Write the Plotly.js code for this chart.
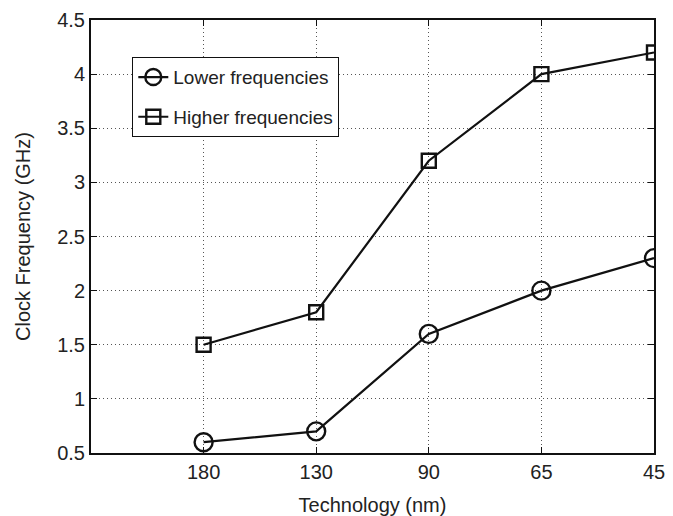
<!DOCTYPE html>
<html>
<head>
<meta charset="utf-8">
<script src="https://cdn.plot.ly/plotly-3.0.1.min.js"></script>
<style>html,body{margin:0;padding:0;background:#fff;}#chart{width:673px;height:516px;}</style>
</head>
<body>
<div id="chart"></div>
<script>
const categories = ["180", "130", "90", "65", "45"];
const positions = [1, 2, 3, 4, 5];
const lowerFreq = [0.6, 0.7, 1.6, 2.0, 2.3];
const higherFreq = [1.5, 1.8, 3.2, 4.0, 4.2];
const yTicks = [0.5, 1, 1.5, 2, 2.5, 3, 3.5, 4, 4.5];
const yTickLabels = ["0.5", "1", "1.5", "2", "2.5", "3", "3.5", "4", "4.5"];

const FAM = "Arial, 'Liberation Sans', sans-serif";
const TXT = "#222";

const traces = [
  {x: positions, y: lowerFreq, name: "Lower frequencies", legendgroup: "a", type: "scatter", mode: "lines+markers",
   line: {color: "#111", width: 2.2},
   marker: {symbol: "circle-open", size: 18, color: "#111", line: {width: 2.4, color: "#111"}}},
  {x: positions, y: higherFreq, name: "Higher frequencies", legendgroup: "b", type: "scatter", mode: "lines+markers",
   line: {color: "#111", width: 2.2},
   marker: {symbol: "square-open", size: 14, color: "#111", line: {width: 2.4, color: "#111"}}}
];

const layout = {
  width: 673, height: 516,
  margin: {l: 91, r: 19, t: 20, b: 63},
  paper_bgcolor: "#fff", plot_bgcolor: "#fff",
  font: {family: FAM, size: 20, color: TXT},
  showlegend: true,
  legend: {x: 0.073, y: 0.9145, xanchor: "left", yanchor: "top", bordercolor: "#111", borderwidth: 1.2,
           bgcolor: "#fff", font: {family: FAM, size: 19, color: TXT},
           traceorder: "grouped", tracegroupgap: 12, itemwidth: 30},
  xaxis: {
    range: [0, 5], tickvals: positions, ticktext: categories,
    showgrid: true, gridcolor: "#555", griddash: "1px,3px", gridwidth: 1,
    zeroline: false, showline: true, linecolor: "#111", linewidth: 2, mirror: "ticks",
    ticks: "inside", ticklen: 6, tickcolor: "#111", tickwidth: 1,
    tickfont: {family: FAM, size: 20, color: TXT},
    title: {text: "Technology (nm)", font: {family: FAM, size: 20, color: TXT}, standoff: 18}
  },
  yaxis: {
    range: [0.5, 4.5], tickvals: yTicks, ticktext: yTickLabels,
    showgrid: true, gridcolor: "#555", griddash: "1px,3px", gridwidth: 1,
    zeroline: false, showline: true, linecolor: "#111", linewidth: 2, mirror: "ticks",
    ticks: "inside", ticklen: 6, tickcolor: "#111", tickwidth: 1,
    tickfont: {family: FAM, size: 20, color: TXT},
    title: {text: "Clock Frequency (GHz)", font: {family: FAM, size: 20, color: TXT}, standoff: 21}
  }
};

Plotly.newPlot("chart", traces, layout, {displayModeBar: false, staticPlot: true});
</script>
</body>
</html>
